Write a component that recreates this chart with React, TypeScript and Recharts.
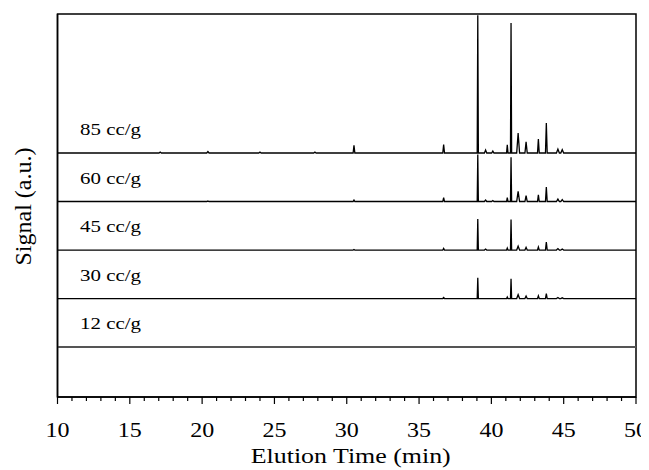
import { LineChart, Line, XAxis, YAxis, ReferenceArea, ReferenceDot } from 'recharts';

// retention times of the peaks (min)
const peakTimes = [17.1, 20.4, 24.0, 27.8, 30.5, 36.7, 39.06, 39.6, 40.1, 41.1, 41.36, 41.85, 42.4, 43.25, 43.8, 44.6, 44.9];
// half width of each peak (min)
const peakWidths = [0.08, 0.08, 0.08, 0.08, 0.06, 0.06, 0.04, 0.08, 0.08, 0.05, 0.04, 0.1, 0.08, 0.06, 0.06, 0.1, 0.1];

const samples = ['12 cc/g', '30 cc/g', '45 cc/g', '60 cc/g', '85 cc/g'];

// peak heights per sample (a.u., baseline = 0), same order as peakTimes
const heights12 = [0, 0, 0, 0, 0, 0, 0, 0, 0, 0, 0, 0, 0, 0, 0, 0, 0];
const heights30 = [0, 0, 0, 0, 0, 0.02, 0.43, 0, 0, 0.03, 0.41, 0.08, 0.05, 0.055, 0.1, 0.02, 0.015];
const heights45 = [0, 0, 0, 0, 0.01, 0.035, 0.64, 0.02, 0, 0.04, 0.63, 0.08, 0.055, 0.06, 0.165, 0.03, 0.02];
const heights60 = [0, 0.01, 0, 0, 0.03, 0.08, 0.97, 0.03, 0.02, 0.08, 0.91, 0.21, 0.12, 0.14, 0.3, 0.05, 0.04];
const heights85 = [0.02, 0.03, 0.02, 0.02, 0.16, 0.175, 2.84, 0.06, 0.04, 0.17, 2.68, 0.41, 0.23, 0.29, 0.62, 0.08, 0.07];

const allHeights = [heights12, heights30, heights45, heights60, heights85];

const xTicks = [10, 11, 12, 13, 14, 15, 16, 17, 18, 19, 20, 21, 22, 23, 24, 25, 26, 27, 28, 29, 30, 31, 32, 33, 34, 35, 36, 37, 38, 39, 40, 41, 42, 43, 44, 45, 46, 47, 48, 49, 50];

const Y_MIN = -1.03;
const Y_MAX = 6.866;
const FONT = 'Liberation Serif, Times New Roman, serif';

type Pt = { t: number; v: number };

function buildTrace(heights: number[], offset: number): Pt[] {
  const pts: Pt[] = [{ t: 10, v: offset }];
  peakTimes.forEach((t, i) => {
    const h = heights[i];
    if (!h) return;
    const w = peakWidths[i];
    pts.push({ t: t - w, v: offset });
    pts.push({ t, v: offset + h });
    pts.push({ t: t + w, v: offset });
  });
  pts.push({ t: 50, v: offset });
  return pts;
}

const traces = allHeights.map((h, i) => buildTrace(h, i));

const XTick = (props: any) => {
  const { x, y, payload } = props;
  const major = payload.value % 5 === 0;
  return (
    <g>
      <line x1={x} x2={x} y1={y} y2={y + (major ? 7 : 4)} stroke="#000" strokeWidth={1.2} />
      {major && (
        <text
          x={x}
          y={y + 40}
          textAnchor="middle"
          fontSize={21}
          fontFamily={FONT}
          fill="#000"
          textLength={24}
          lengthAdjust="spacingAndGlyphs"
        >
          {payload.value}
        </text>
      )}
    </g>
  );
};

export default function App() {
  return (
    <div style={{ width: 641, height: 462, background: '#fff' }}>
      <LineChart width={641} height={462} margin={{ top: 6, right: 13, left: 0, bottom: 0 }}>
        <XAxis
          dataKey="t"
          type="number"
          domain={[10, 50]}
          allowDataOverflow
          ticks={xTicks}
          interval={0}
          tickSize={0}
          tickMargin={0}
          tickLine={false}
          tick={<XTick />}
          axisLine={{ stroke: '#000', strokeWidth: 1.5 }}
          height={73}
          label={{
            content: (p: any) => {
              const vb = p.viewBox;
              return (
                <text
                  x={vb.x + vb.width / 2 + 4}
                  y={vb.y + 66}
                  textAnchor="middle"
                  fontSize={20}
                  fontFamily={FONT}
                  fill="#000"
                  textLength={200}
                  lengthAdjust="spacingAndGlyphs"
                >
                  Elution Time (min)
                </text>
              );
            },
          }}
        />
        <YAxis
          type="number"
          domain={[Y_MIN, Y_MAX]}
          allowDataOverflow
          tick={false}
          tickLine={false}
          axisLine={{ stroke: '#000', strokeWidth: 1.5 }}
          width={49.5}
          label={{
            content: (p: any) => {
              const vb = p.viewBox;
              const cx = 22.5;
              const cy = vb.y + vb.height / 2 + 1;
              return (
                <text
                  x={cx}
                  y={cy}
                  transform={`rotate(-90, ${cx}, ${cy})`}
                  textAnchor="middle"
                  fontSize={23}
                  fontFamily={FONT}
                  fill="#000"
                  textLength={118}
                  lengthAdjust="spacingAndGlyphs"
                >
                  Signal (a.u.)
                </text>
              );
            },
          }}
        />
        <ReferenceArea x1={10} x2={50} y1={Y_MIN} y2={Y_MAX} fill="none" stroke="#000" strokeWidth={1.5} fillOpacity={0} />
        {traces.map((data, i) => (
          <Line
            key={samples[i]}
            data={data}
            dataKey="v"
            type="linear"
            stroke={i === 0 ? '#555' : '#000'}
            strokeWidth={i === 0 ? 2 : 1.3}
            dot={false}
            activeDot={false}
            isAnimationActive={false}
          />
        ))}
        {samples.map((s, i) => (
          <ReferenceDot
            key={`lbl-${s}`}
            x={11.56}
            y={i}
            r={0}
            fill="none"
            stroke="none"
            label={{
              content: (p: any) => {
                const vb = p.viewBox || { x: 0, y: 0 };
                return (
                  <text
                    x={vb.x}
                    y={vb.y - 18}
                    fontSize={17}
                    fontFamily={FONT}
                    fill="#000"
                    textLength={61}
                    lengthAdjust="spacingAndGlyphs"
                  >
                    {s}
                  </text>
                );
              },
            }}
          />
        ))}
      </LineChart>
    </div>
  );
}
